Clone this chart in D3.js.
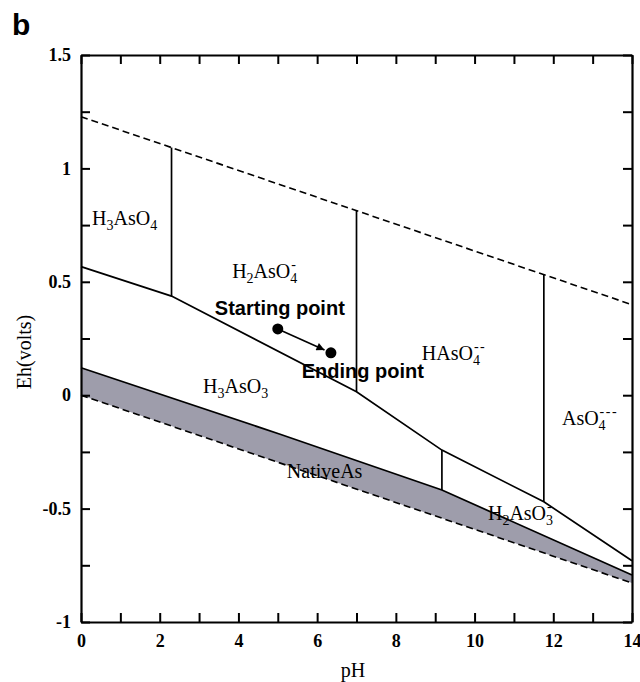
<!DOCTYPE html>
<html>
<head>
<meta charset="utf-8">
<script src="https://cdn.jsdelivr.net/npm/d3@7"></script>
<style>
  html, body { margin: 0; padding: 0; background: #fff; }
  svg { display: block; }
</style>
</head>
<body>
<svg id="chart" width="640" height="682"></svg>
<script>
// Eh–pH (Pourbaix) diagram for arsenic, 25 °C
const xTicks = d3.range(0, 15, 1);
const xTickLabels = ["0", "2", "4", "6", "8", "10", "12", "14"];
const yTicks = d3.range(-1, 1.51, 0.25);
const yTickLabels = ["-1", "-0.5", "0", "0.5", "1", "1.5"];

// water stability limits [pH, Eh]
const waterUpper = [[0, 1.228], [14, 0.399]];
const waterLower = [[0, 0.0], [14, -0.828]];

// As(V) / As(III) boundary
const as5as3Boundary = [[0, 0.567], [2.3, 0.437], [7.0, 0.015], [9.17, -0.242], [11.76, -0.47], [14, -0.73]];
// As(III) / native As boundary
const as3NativeBoundary = [[0, 0.121], [5.06, -0.172], [9.17, -0.418], [14, -0.793]];

// acid–base boundaries [pH, Eh top, Eh bottom]
const verticalBoundaries = [
  [2.3, 1.092, 0.437],
  [7.0, 0.815, 0.015],
  [9.17, -0.242, -0.418],
  [11.76, 0.532, -0.47]
];

// species fields: "_" subscript, "^" charge stacked over the subscript
const speciesNames = ["H_3AsO_4", "H_2AsO_4^-", "H_3AsO_3", "HAsO_4^--", "AsO_4^---", "NativeAs", "H_2AsO_3^-"];
const speciesPH = [0.28, 3.84, 3.10, 8.66, 12.22, 5.23, 10.34];
const speciesEh = [0.75, 0.517, 0.010, 0.155, -0.131, -0.365, -0.550];

// sample trajectory
const pointNames = ["Starting point", "Ending point"];
const pointPH = [5.0, 6.35];
const pointEh = [0.292, 0.187];
const pointLabelPH = [3.40, 5.61];
const pointLabelEh = [0.354, 0.076];

const svg = d3.select("#chart");
const margin = { left: 81, right: 8, top: 55, bottom: 60 };
const W = 640, H = 682;

const x = d3.scaleLinear().domain([0, 14]).range([margin.left, W - margin.right]);
const y = d3.scaleLinear().domain([-1, 1.5]).range([H - margin.bottom, margin.top]);

const line = d3.line().x(d => x(d[0])).y(d => y(d[1]));

// shaded field between As(III)/As and the lower water limit
const band = as3NativeBoundary.concat(waterLower.slice().reverse());
svg.append("path")
  .attr("d", line(band) + "Z")
  .attr("fill", "#9e9dab")
  .attr("stroke", "none");

// water limits
[waterUpper, waterLower].forEach(d => {
  svg.append("path")
    .attr("d", line(d))
    .attr("fill", "none")
    .attr("stroke", "#000")
    .attr("stroke-width", 1.6)
    .attr("stroke-dasharray", "7,4");
});

// redox boundaries
[as5as3Boundary, as3NativeBoundary].forEach(d => {
  svg.append("path")
    .attr("d", line(d))
    .attr("fill", "none")
    .attr("stroke", "#000")
    .attr("stroke-width", 1.7);
});

svg.selectAll("line.vb")
  .data(verticalBoundaries)
  .enter().append("line")
  .attr("class", "vb")
  .attr("x1", d => x(d[0])).attr("x2", d => x(d[0]))
  .attr("y1", d => y(d[1])).attr("y2", d => y(d[2]))
  .attr("stroke", "#000")
  .attr("stroke-width", 1.7);

// axes with inward ticks on all four sides
const tickFont = "'Liberation Serif', 'Times New Roman', serif";
function styleAxis(g) {
  g.attr("font-size", 18).attr("font-family", tickFont);
  g.select(".domain").attr("stroke-width", 2.2);
  g.selectAll(".tick line").attr("stroke-width", 2);
  g.selectAll(".tick text")
    .attr("font-family", tickFont)
    .attr("font-weight", "bold")
    .attr("font-size", 18)
    .attr("fill", "#000");
}
const fmtX = d => (d % 2 === 0 ? xTickLabels[d / 2] : "");
const fmtY = d => {
  const k = Math.round((d + 1) / 0.25);
  return k % 2 === 0 ? yTickLabels[k / 2] : "";
};

svg.append("g")
  .attr("transform", `translate(0,${y(-1)})`)
  .call(d3.axisBottom(x).tickValues(xTicks).tickFormat(fmtX).tickSizeInner(-9).tickSizeOuter(0).tickPadding(12))
  .call(styleAxis);
svg.append("g")
  .attr("transform", `translate(0,${y(1.5)})`)
  .call(d3.axisTop(x).tickValues(xTicks).tickFormat("").tickSizeInner(-9).tickSizeOuter(0))
  .call(styleAxis);
svg.append("g")
  .attr("transform", `translate(${x(0)},0)`)
  .call(d3.axisLeft(y).tickValues(yTicks).tickFormat(fmtY).tickSizeInner(-9).tickSizeOuter(0).tickPadding(10))
  .call(styleAxis);
svg.append("g")
  .attr("transform", `translate(${x(14)},0)`)
  .call(d3.axisRight(y).tickValues(yTicks).tickFormat("").tickSizeInner(-9).tickSizeOuter(0))
  .call(styleAxis);

// axis titles
svg.append("text")
  .attr("transform", `translate(31,${352}) rotate(-90)`)
  .attr("text-anchor", "middle")
  .attr("font-family", tickFont)
  .attr("font-size", 20)
  .text("Eh(volts)");
svg.append("text")
  .attr("x", 353).attr("y", 677)
  .attr("text-anchor", "middle")
  .attr("font-family", tickFont)
  .attr("font-size", 20)
  .text("pH");

// panel letter
svg.append("text")
  .attr("x", 12).attr("y", 35)
  .attr("font-family", "'Liberation Sans', Arial, sans-serif")
  .attr("font-weight", "bold")
  .attr("font-size", 30)
  .text("b");

// species labels
function drawSpecies(name, px, py) {
  const t = svg.append("text")
    .attr("x", x(px)).attr("y", y(py))
    .attr("font-family", tickFont)
    .attr("font-size", 20)
    .attr("fill", "#000");
  let i = 0, buf = "", shifted = false;
  const flush = () => {
    if (buf) {
      t.append("tspan").attr("dy", shifted ? -5 : 0).text(buf);
      shifted = false;
      buf = "";
    }
  };
  while (i < name.length) {
    const c = name[i];
    if (c === "_") {
      flush();
      t.append("tspan").attr("font-size", 14).attr("dy", 5).text(name[i + 1]);
      shifted = true;
      i += 2;
    } else if (c === "^") {
      flush();
      const charge = name.slice(i + 1);
      t.append("tspan").attr("font-size", 14).attr("dx", -6).attr("dy", -14)
        .attr("letter-spacing", 1.5).text(charge);
      i = name.length;
    } else {
      buf += c;
      i += 1;
    }
  }
  flush();
}
speciesNames.forEach((n, i) => drawSpecies(n, speciesPH[i], speciesEh[i]));

// trajectory: start → end
const defs = svg.append("defs");
defs.append("marker")
  .attr("id", "head")
  .attr("viewBox", "0 0 10 10")
  .attr("refX", 10).attr("refY", 5)
  .attr("markerWidth", 10).attr("markerHeight", 8)
  .attr("markerUnits", "userSpaceOnUse")
  .attr("orient", "auto")
  .append("path").attr("d", "M0,0 L10,5 L0,10 Z").attr("fill", "#000");

const sx = x(pointPH[0]), sy = y(pointEh[0]);
const ex = x(pointPH[1]), ey = y(pointEh[1]);
const len = Math.hypot(ex - sx, ey - sy);
const gap = 7;
svg.append("line")
  .attr("x1", sx).attr("y1", sy)
  .attr("x2", ex - (ex - sx) / len * gap).attr("y2", ey - (ey - sy) / len * gap)
  .attr("stroke", "#000").attr("stroke-width", 1.6)
  .attr("marker-end", "url(#head)");

svg.selectAll("circle.pt")
  .data(pointPH)
  .enter().append("circle")
  .attr("class", "pt")
  .attr("cx", (d, i) => x(d))
  .attr("cy", (d, i) => y(pointEh[i]))
  .attr("r", 5.5)
  .attr("fill", "#000");

pointNames.forEach((n, i) => {
  svg.append("text")
    .attr("x", x(pointLabelPH[i])).attr("y", y(pointLabelEh[i]))
    .attr("font-family", "'Liberation Sans', Arial, sans-serif")
    .attr("font-weight", "bold")
    .attr("font-size", 20)
    .attr("fill", "#000")
    .text(n);
});
</script>
</body>
</html>
